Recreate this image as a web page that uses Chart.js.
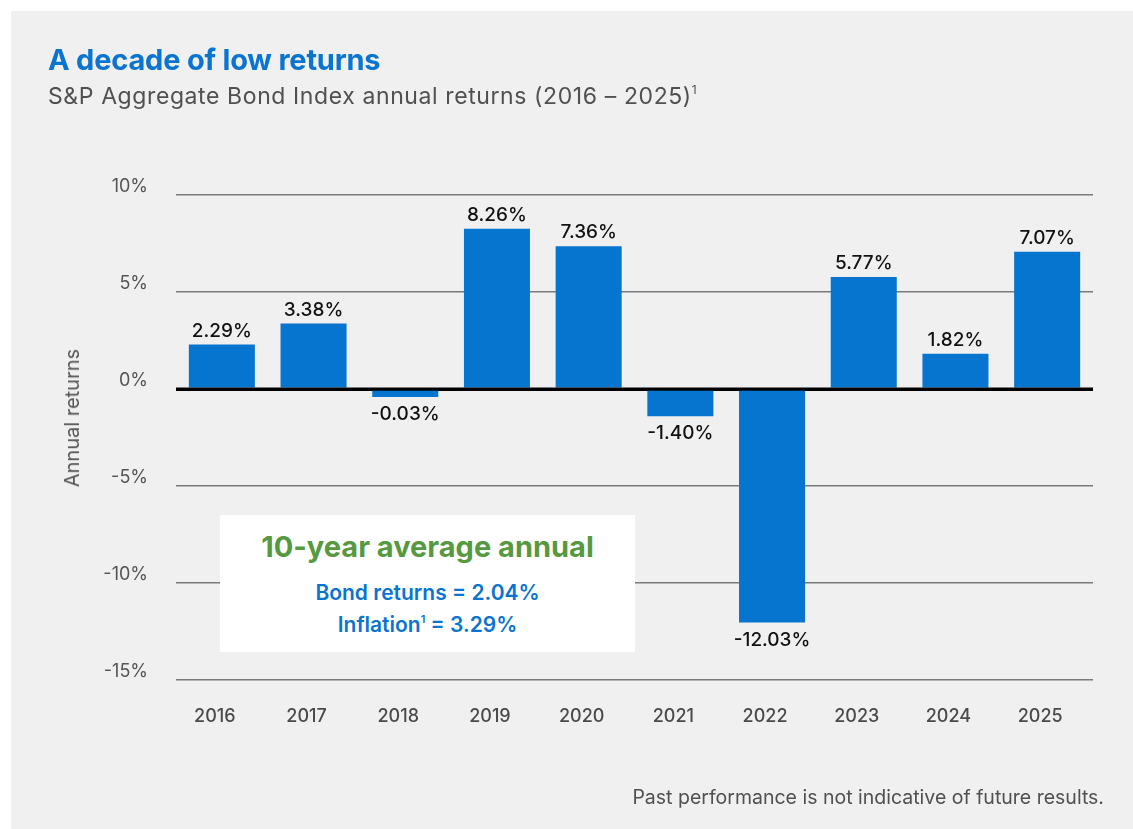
<!DOCTYPE html>
<html>
<head>
<meta charset="utf-8">
<script src="https://cdn.jsdelivr.net/npm/chart.js@4"></script>
<style>
  body { margin: 0; background: #fff; font-family: Inter, "Noto Sans", sans-serif; }
  #wrap { position: relative; width: 1133px; height: 829px; overflow: hidden; }
  #panel { position: absolute; left: 11px; top: 11px; right: 0; bottom: 0; background: #f0f0f0; }
  #myChart { position: absolute; left: 0; top: 0; }
  .title { position: absolute; left: 48px; top: 42px; font-size: 29px; font-weight: 700; color: #0a74d1; letter-spacing: -0.2px; }
  .subtitle { position: absolute; left: 48px; top: 82px; font-size: 23px; color: #505050; letter-spacing: 0.6px; }
  .subtitle sup { font-size: 12px; vertical-align: 10px; line-height: 0; }
  .ytitle { position: absolute; left: 72px; top: 418px; font-size: 20px; color: #555; transform: translate(-50%, -50%) rotate(-90deg); white-space: nowrap; }
  .note { position: absolute; right: 29px; top: 785px; font-size: 19.5px; color: #505050; }
  .avgbox { position: absolute; left: 220px; top: 515px; width: 415px; height: 137px; background: #fff; text-align: center; }
  .avgbox .head { margin-top: 14px; font-size: 29px; font-weight: 700; color: #56993f; }
  .avgbox .line { font-size: 21px; font-weight: 600; color: #0a74d1; line-height: 32px; }
  .avgbox .first { margin-top: 13px; }
  .avgbox sup { font-size: 11px; vertical-align: 9px; line-height: 0; }
</style>
</head>
<body>
<div id="wrap">
  <div id="panel"></div>
  <canvas id="myChart" width="1133" height="829"></canvas>
  <div class="title">A decade of low returns</div>
  <div class="subtitle">S&amp;P Aggregate Bond Index annual returns (2016 – 2025)<sup>1</sup></div>
  <div class="ytitle">Annual returns</div>
  <div class="avgbox">
    <div class="head">10-year average annual</div>
    <div class="line first">Bond returns = 2.04%</div>
    <div class="line">Inflation<sup>1</sup> = 3.29%</div>
  </div>
  <div class="note">Past performance is not indicative of future results.</div>
</div>
<script>
const years = ['2016', '2017', '2018', '2019', '2020', '2021', '2022', '2023', '2024', '2025']
const annualReturns = [2.29, 3.38, -0.03, 8.26, 7.36, -1.40, -12.03, 5.77, 1.82, 7.07]
const yTicks = [10, 5, 0, -5, -10, -15]

//value labels + black zero line on top of bars
const barLabels = {
    id: 'barLabels',
    afterDatasetsDraw(chart) {
        const ctx = chart.ctx
        const meta = chart.getDatasetMeta(0)
        const yScale = chart.scales.y
        const zero = yScale.getPixelForValue(0)
        ctx.save()
        ctx.strokeStyle = '#000'
        ctx.lineWidth = 3
        ctx.beginPath()
        ctx.moveTo(chart.chartArea.left, zero)
        ctx.lineTo(chart.chartArea.right, zero)
        ctx.stroke()

        ctx.font = '500 19px Inter, "Noto Sans", sans-serif'
        ctx.fillStyle = '#111'
        ctx.textAlign = 'center'
        meta.data.forEach((bar, i) => {
            const value = annualReturns[i]
            const text = value.toFixed(2) + '%'
            if (value >= 0) {
                ctx.textBaseline = 'bottom'
                ctx.fillText(text, bar.x, bar.y - 4)
            } else {
                ctx.textBaseline = 'top'
                ctx.fillText(text, bar.x, Math.max(bar.y, zero + 8) + 8)
            }
        })
        ctx.restore()
    }
}

const config = {
    type: 'bar',
    data: {
        labels: years,
        datasets: [{
            data: annualReturns,
            backgroundColor: '#0675cf',
            categoryPercentage: 1,
            barPercentage: 0.72,
            minBarLength: 8
        }]
    },
    options: {
        responsive: false,
        animation: false,
        layout: { padding: { left: 0, right: 40, top: 195, bottom: 0 } },
        plugins: {
            legend: { display: false },
            tooltip: { enabled: false }
        },
        scales: {
            x: {
                grid: { display: false },
                border: { display: false },
                ticks: {
                    padding: 18,
                    labelOffset: -7,
                    color: '#4a4a4a',
                    font: { family: 'Inter', size: 18, weight: 500 }
                },
                afterFit: (scale) => { scale.height = 149 }
            },
            y: {
                min: -15,
                max: 10,
                afterBuildTicks: (scale) => {
                    scale.ticks = yTicks.map((v) => ({ value: v }))
                },
                grid: {
                    drawTicks: false,
                    color: (c) => c.tick && c.tick.value === 0 ? '#000' : '#7a7a7a',
                    lineWidth: (c) => c.tick && c.tick.value === 0 ? 3 : 1.5
                },
                border: { display: false },
                ticks: {
                    padding: 28,
                    labelOffset: -8,
                    color: '#555',
                    font: { family: 'Inter', size: 18 },
                    callback: (v) => v + '%'
                },
                afterFit: (scale) => { scale.width = 176 }
            }
        }
    },
    plugins: [barLabels]
}

document.addEventListener('DOMContentLoaded', () => {
    new Chart(document.querySelector('#myChart'), config)
})
</script>
</body>
</html>
